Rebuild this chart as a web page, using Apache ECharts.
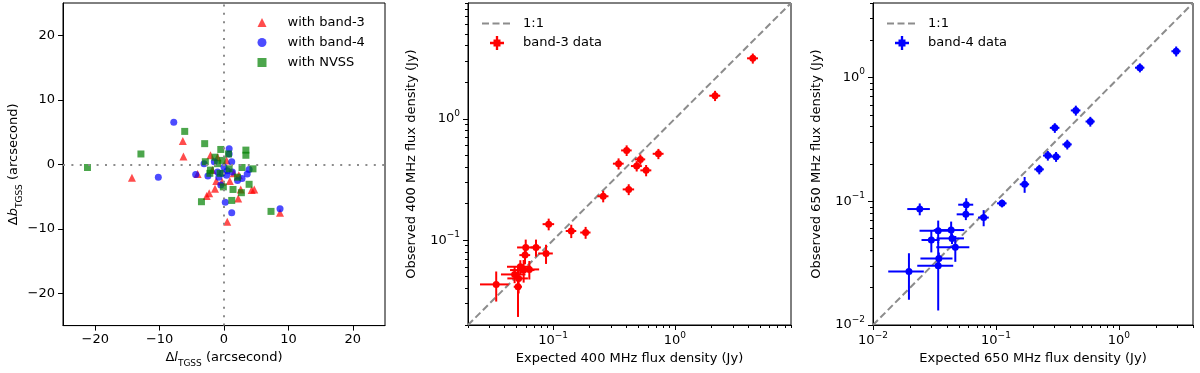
<!DOCTYPE html>
<html>
<head>
<meta charset="utf-8">
<script src="https://cdn.jsdelivr.net/npm/echarts@6/dist/echarts.min.js"></script>
<style>
  html, body { margin: 0; padding: 0; background: #fff; }
  #chart { width: 1200px; height: 373px; }
</style>
</head>
<body>
<div id="chart"></div>
<script>
// panel 1: position offsets against TGSS (arcsec)
const b3dl = [-14.3, -6.4, -6.3, -4.1, -2.7, -2.3, -1.4, -2.1, -1.2, 0.5, 0.9, 2.2, 2.6, 4.3, 4.7, 8.7, 2.3, -0.3, 1.5, -1.0, 0.4, -1.8];
const b3db = [-2.1, 3.6, 1.2, -1.5, -4.9, -4.5, -3.8, 1.4, -2.6, -8.9, -2.6, -5.3, -3.9, -4.0, -3.9, -7.5, -1.7, -2.7, -1.4, 1.1, 0.6, -0.9];
const b4dl = [-7.8, -10.2, -4.4, -3.1, -2.5, 0.8, 1.2, 0.2, 1.2, 8.7, 3.6, 3.9, 2.8, 2.1, 0.4, -0.8, -0.5, -1.5, 0.0, 0.8, -1.0, 1.3, -0.3, 0.5];
const b4db = [6.5, -2.0, -1.6, 0.1, -1.8, 2.4, 0.4, -5.9, -7.5, -6.9, -1.5, -0.8, -2.2, -2.5, -1.7, -2.0, -3.2, 0.4, -0.4, 1.6, -1.2, -1.2, -1.4, -1.0];
const nvdl = [-21.2, -12.9, -6.1, -3.0, -0.5, 0.7, 3.4, 3.4, -2.9, -1.4, -2.1, -2.2, -0.6, 0.8, 2.8, 4.5, 3.9, 2.7, 1.4, 1.2, -3.5, 7.3, -0.1, -0.3, 2.1, -1.0];
const nvdb = [-0.5, 1.6, 5.1, 3.2, 2.3, 1.6, 2.2, 1.4, 0.4, 1.1, -0.9, -1.4, -1.4, -0.7, -0.5, -0.7, -3.1, -4.4, -3.9, -5.6, -5.8, -7.3, -3.5, 0.6, -2.0, 0.1];
const offTicks = [-20, -10, 0, 10, 20];

// panel 2: band-3 (400 MHz) fluxes, Jy
const b3Exp = [4.37, 2.14, 0.402, 0.345, 0.521, 0.486, 0.581, 0.733, 0.418, 0.258, 0.092, 0.141, 0.185, 0.0875, 0.0724, 0.0596, 0.0588, 0.0638, 0.0538, 0.0483, 0.0521, 0.0515, 0.0341, 0.0573];
const b3Obs = [3.15, 1.55, 0.549, 0.427, 0.463, 0.408, 0.376, 0.515, 0.262, 0.230, 0.1355, 0.119, 0.1156, 0.0777, 0.0871, 0.0871, 0.0753, 0.0574, 0.0604, 0.0522, 0.0484, 0.0413, 0.0432, 0.0567];
const b3ExpErr = [0.45, 0.22, 0.04, 0.035, 0.05, 0.05, 0.06, 0.075, 0.045, 0.027, 0.01, 0.014, 0.018, 0.012, 0.007, 0.009, 0.006, 0.013, 0.012, 0.011, 0.01, 0.004, 0.009, 0.013];
const b3ObsErr = [0.3, 0.15, 0.055, 0.045, 0.045, 0.04, 0.04, 0.05, 0.027, 0.025, 0.015, 0.015, 0.013, 0.014, 0.014, 0.014, 0.012, 0.01, 0.008, 0.008, 0.012, 0.018, 0.012, 0.012];
const b3Range = [0.02, 9];

// panel 3: band-4 (650 MHz) fluxes, Jy
const b4Exp = [2.92, 1.48, 0.446, 0.585, 0.301, 0.380, 0.264, 0.308, 0.225, 0.171, 0.112, 0.0794, 0.0240, 0.0573, 0.0569, 0.0339, 0.0432, 0.0298, 0.0439, 0.0467, 0.0343, 0.0339, 0.0196];
const b4Obs = [1.63, 1.20, 0.542, 0.441, 0.392, 0.288, 0.234, 0.229, 0.181, 0.137, 0.0962, 0.0738, 0.0865, 0.0938, 0.0784, 0.0578, 0.0585, 0.0486, 0.0501, 0.0424, 0.0345, 0.0301, 0.0270];
const b4ExpErr = [0.25, 0.13, 0.04, 0.05, 0.027, 0.033, 0.023, 0.027, 0.02, 0.015, 0.01, 0.008, 0.005, 0.008, 0.009, 0.01, 0.012, 0.005, 0.011, 0.014, 0.01, 0.011, 0.0063];
const b4ObsErr = [0.15, 0.1, 0.05, 0.04, 0.035, 0.026, 0.021, 0.021, 0.016, 0.02, 0.007, 0.011, 0.0095, 0.012, 0.008, 0.012, 0.01, 0.01, 0.005, 0.01, 0.004, 0.017, 0.011];
const b4Range = [0.01, 4];

const majorTicks = [0.01, 0.1, 1];
const minorTicks = [];
[0.01, 0.1, 1].forEach(d => {
  for (let k = 2; k <= 9; k++) minorTicks.push(+(d * k).toPrecision(3));
});

const FONT = 'DejaVu Sans';
const zip = (a, b) => a.map((v, i) => [v, b[i]]);
const zip4 = (a, b, c, d) => a.map((v, i) => [v, b[i], c[i], d[i]]);

const supLabel = v => {
  const e = Math.round(Math.log10(v));
  return '{b|10}{s|' + (e < 0 ? '\u2212' + (-e) : e) + '}';
};
const supRich = {
  b: { fontSize: 13, fontFamily: FONT, color: '#000', lineHeight: 20, verticalAlign: 'middle' },
  s: { fontSize: 9, fontFamily: FONT, color: '#000', verticalAlign: 'top' },
};
const nameRich = {
  t: { fontSize: 13, fontFamily: FONT, color: '#000', lineHeight: 20, verticalAlign: 'middle' },
  i: { fontSize: 13, fontFamily: FONT, fontStyle: 'italic', color: '#000', lineHeight: 20, verticalAlign: 'middle' },
  sub: { fontSize: 9, fontFamily: FONT, color: '#000', verticalAlign: 'bottom' },
};
const nameStyle = { fontSize: 13, fontFamily: FONT, color: '#000', rich: nameRich };

const blackLine = { show: true, onZero: false, lineStyle: { color: '#000', width: 1 } };

const offAxis = (grid, pos, name, gap) => ({
  gridIndex: grid, type: 'value', min: -25, max: 25, position: pos,
  axisLine: blackLine,
  axisTick: { show: true, length: 5, customValues: offTicks, lineStyle: { color: '#000' } },
  axisLabel: {
    customValues: offTicks, color: '#000', fontSize: 13, fontFamily: FONT, margin: 8,
    formatter: v => (v < 0 ? '\u2212' + (-v) : '' + v),
  },
  splitLine: { show: false },
  name, nameLocation: 'middle', nameGap: gap, nameTextStyle: nameStyle,
});

const logMajor = (grid, pos, range, name, gap) => ({
  gridIndex: grid, type: 'log', min: range[0], max: range[1], position: pos,
  axisLine: blackLine,
  axisTick: { show: true, length: 5, customValues: majorTicks, lineStyle: { color: '#000' } },
  axisLabel: { customValues: majorTicks, formatter: supLabel, rich: supRich, margin: pos === 'left' ? 8 : 6 },
  splitLine: { show: false },
  name, nameLocation: 'middle', nameGap: gap, nameTextStyle: nameStyle,
});

const logMinor = (grid, pos, range) => ({
  gridIndex: grid, type: 'log', min: range[0], max: range[1], position: pos,
  axisLine: { show: false },
  axisTick: { show: true, length: 3, customValues: minorTicks, lineStyle: { color: '#000' } },
  axisLabel: { show: false },
  splitLine: { show: false },
});

function renderErr(params, api) {
  const x = api.value(0), y = api.value(1), ex = api.value(2), ey = api.value(3);
  const l = api.coord([Math.max(x - ex, 1e-4), y]);
  const r = api.coord([x + ex, y]);
  const b = api.coord([x, Math.max(y - ey, 1e-4)]);
  const t = api.coord([x, y + ey]);
  const st = { stroke: api.visual('color'), lineWidth: 2 };
  return {
    type: 'group',
    children: [
      { type: 'line', shape: { x1: l[0], y1: l[1], x2: r[0], y2: r[1] }, style: st },
      { type: 'line', shape: { x1: b[0], y1: b[1], x2: t[0], y2: t[1] }, style: st },
    ],
  };
}

// plus sign with a solid centre, like a matplotlib errorbar handle
const errIcon = 'path://M5,0h2v3h2v2h3v2h-3v2h-2v3h-2v-3h-2v-2h-3v-2h3v-2h2z';

const fluxSeries = (xi, name, color, exp, obs, eExp, eObs, range) => [
  {
    name: '1:1', type: 'line', xAxisIndex: xi, yAxisIndex: xi, symbol: 'none', silent: true,
    data: zip(range, range), itemStyle: { color: '#8c8c8c' },
    lineStyle: { color: '#8c8c8c', width: 2, type: [7, 3.5] }, z: 1,
  },
  {
    name, type: 'custom', xAxisIndex: xi, yAxisIndex: xi, clip: true,
    data: zip4(exp, obs, eExp, eObs), encode: { x: 0, y: 1 },
    itemStyle: { color }, renderItem: renderErr, z: 2,
  },
  {
    name, type: 'scatter', xAxisIndex: xi, yAxisIndex: xi, symbol: 'circle', symbolSize: 7,
    data: zip(exp, obs), itemStyle: { color, opacity: 1 }, z: 3,
  },
];

const lineItem = { name: '1:1', itemStyle: { color: 'rgba(0,0,0,0)', borderWidth: 0 } };

const chart = echarts.init(document.getElementById('chart'));
chart.setOption({
  animation: false,
  backgroundColor: '#fff',
  textStyle: { fontFamily: FONT },
  grid: [
    { left: 63, top: 3, width: 322, height: 323, show: true, borderColor: '#000', borderWidth: 1 },
    { left: 468, top: 3, width: 323, height: 322, show: true, borderColor: '#000', borderWidth: 1 },
    { left: 873, top: 3, width: 320, height: 322, show: true, borderColor: '#000', borderWidth: 1 },
  ],
  legend: [
    {
      orient: 'vertical', left: 257.5, top: 15, padding: 0, itemGap: 5, itemWidth: 9, itemHeight: 9,
      textStyle: { fontSize: 13, lineHeight: 15, color: '#000', fontFamily: FONT, padding: [0, 0, 0, 16] },
      data: [
        { name: 'with band-3', icon: 'triangle' },
        { name: 'with band-4', icon: 'circle' },
        { name: 'with NVSS', icon: 'rect' },
      ],
    },
    {
      orient: 'vertical', left: 481, top: 17, padding: 0, itemGap: 6, itemWidth: 30, itemHeight: 14,
      textStyle: { fontSize: 13, color: '#000', fontFamily: FONT, padding: [0, 0, 0, 6] },
      data: [lineItem, { name: 'band-3 data', icon: errIcon }],
    },
    {
      orient: 'vertical', left: 886, top: 17, padding: 0, itemGap: 6, itemWidth: 30, itemHeight: 14,
      textStyle: { fontSize: 13, color: '#000', fontFamily: FONT, padding: [0, 0, 0, 6] },
      data: [lineItem, { name: 'band-4 data', icon: errIcon }],
    },
  ],
  xAxis: [
    offAxis(0, 'bottom', '{t|\u0394}{i|l}{sub|TGSS}{t| (arcsecond)}', 22),
    logMajor(1, 'bottom', b3Range, 'Expected 400 MHz flux density (Jy)', 24),
    logMinor(1, 'bottom', b3Range),
    logMajor(2, 'bottom', b4Range, 'Expected 650 MHz flux density (Jy)', 24),
    logMinor(2, 'bottom', b4Range),
  ],
  yAxis: [
    offAxis(0, 'left', '{t|\u0394}{i|b}{sub|TGSS}{t| (arcsecond)}', 39),
    logMajor(1, 'left', b3Range, 'Observed 400 MHz flux density (Jy)', 50),
    logMinor(1, 'left', b3Range),
    logMajor(2, 'left', b4Range, 'Observed 650 MHz flux density (Jy)', 50),
    logMinor(2, 'left', b4Range),
  ],
  series: [
    {
      name: 'with band-3', type: 'scatter', xAxisIndex: 0, yAxisIndex: 0, symbol: 'triangle', symbolSize: 8,
      data: zip(b3dl, b3db), itemStyle: { color: '#ff0000', opacity: 0.7 },
      markLine: {
        silent: true, symbol: 'none', label: { show: false },
        lineStyle: { color: '#8c8c8c', width: 2, type: [2, 6.4] },
        data: [{ xAxis: 0 }, { yAxis: 0 }],
      },
    },
    {
      name: 'with band-4', type: 'scatter', xAxisIndex: 0, yAxisIndex: 0, symbol: 'circle', symbolSize: 7,
      data: zip(b4dl, b4db), itemStyle: { color: '#0000ff', opacity: 0.7 },
    },
    {
      name: 'with NVSS', type: 'scatter', xAxisIndex: 0, yAxisIndex: 0, symbol: 'rect', symbolSize: 7,
      data: zip(nvdl, nvdb), itemStyle: { color: '#008000', opacity: 0.7 },
    },
    ...fluxSeries(1, 'band-3 data', '#ff0000', b3Exp, b3Obs, b3ExpErr, b3ObsErr, b3Range),
    ...fluxSeries(3, 'band-4 data', '#0000ff', b4Exp, b4Obs, b4ExpErr, b4ObsErr, b4Range),
  ],
});
</script>
</body>
</html>
